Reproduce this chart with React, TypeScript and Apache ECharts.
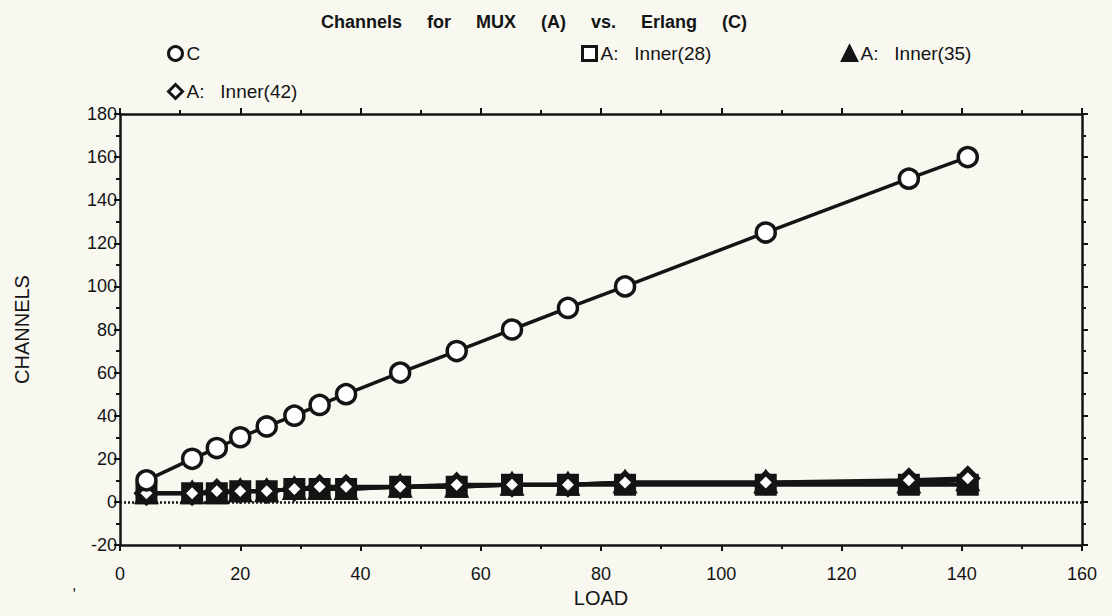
import React, { useEffect, useRef } from "react";
import * as echarts from "echarts";

const loads = [4.4, 12.0, 16.1, 20.0, 24.4, 29.0, 33.2, 37.6, 46.6, 56.0, 65.2, 74.5, 84.0, 107.4, 131.2, 141.0];
const channelsC = [10, 20, 25, 30, 35, 40, 45, 50, 60, 70, 80, 90, 100, 125, 150, 160];
const inner28 = [4, 4, 4, 5, 5, 6, 6, 6, 7, 7, 8, 8, 8, 8, 8, 8];
const inner35 = [4, 4, 4, 5, 5, 6, 6, 6, 7, 7, 8, 8, 9, 9, 9, 10];
const inner42 = [4, 4, 5, 5, 5, 6, 7, 7, 7, 8, 8, 8, 9, 9, 10, 11];
const seriesNames = ["C", "A:   Inner(28)", "A:   Inner(35)", "A:   Inner(42)"];
const titleText = "Channels     for     MUX     (A)     vs.     Erlang     (C)";

const INK = "#141414";
const FONT = "'Liberation Sans', Arial, sans-serif";

const pairs = (ys: number[]) => loads.map((x, i) => [x, ys[i]]);

export default function App() {
  const ref = useRef<HTMLDivElement>(null);
  useEffect(() => {
    if (!ref.current) return;
    const chart = echarts.init(ref.current, undefined, { renderer: "svg" });
    const axisCommon = {
      type: "value" as const,
      axisLine: { show: true, onZero: false, lineStyle: { color: INK, width: 2.5 } },
      axisTick: { show: true, inside: false, length: 6, lineStyle: { color: INK, width: 2 } },
      minorTick: { show: true, splitNumber: 2, length: 4, lineStyle: { color: INK, width: 2 } },
      splitLine: { show: false },
      minorSplitLine: { show: false },
    };
    const legendCommon = {
      orient: "horizontal" as const,
      itemWidth: 14,
      itemHeight: 14,
      itemGap: 4,
      textStyle: { fontFamily: FONT, fontSize: 19, color: INK, padding: [0, 0, 0, -1] },
      selectedMode: false,
    };
    const legendItemStyle = { color: "#fff", borderColor: INK, borderWidth: 3 };
    chart.setOption({
      animation: false,
      backgroundColor: "#f8f8f1",
      title: {
        text: titleText,
        left: 316,
        top: 8,
        textStyle: { fontFamily: FONT, fontSize: 18, fontWeight: "bold", color: INK },
      },
      legend: [
        { ...legendCommon, left: 162, top: 39, data: [{ name: seriesNames[0], icon: "circle", itemStyle: legendItemStyle }] },
        { ...legendCommon, left: 576, top: 39, data: [{ name: seriesNames[1], icon: "rect", itemStyle: legendItemStyle }] },
        { ...legendCommon, left: 836, top: 39, data: [{ name: seriesNames[2], icon: "triangle", itemStyle: { ...legendItemStyle, color: INK } }] },
        { ...legendCommon, left: 162, top: 77, data: [{ name: seriesNames[3], icon: "diamond", itemStyle: legendItemStyle }] },
      ],
      grid: { left: 120, right: 30, top: 114, bottom: 71, containLabel: false },
      xAxis: [
        {
          ...axisCommon,
          position: "bottom",
          min: 0,
          max: 160,
          interval: 20,
          axisLabel: { show: true, fontFamily: FONT, fontSize: 18, color: INK, margin: 20 },
          name: "LOAD",
          nameLocation: "middle",
          nameGap: 42,
          nameTextStyle: { fontFamily: FONT, fontSize: 20, color: INK },
        },
        {
          ...axisCommon,
          position: "top",
          min: 0,
          max: 160,
          interval: 20,
          axisLabel: { show: false },
        },
      ],
      yAxis: [
        {
          ...axisCommon,
          position: "left",
          min: -20,
          max: 180,
          interval: 20,
          axisLabel: { show: true, fontFamily: FONT, fontSize: 18, color: INK, margin: 3 },
          name: "CHANNELS",
          nameLocation: "middle",
          nameGap: 88,
          nameTextStyle: { fontFamily: FONT, fontSize: 20, color: INK },
        },
        {
          ...axisCommon,
          position: "right",
          min: -20,
          max: 180,
          interval: 20,
          axisLabel: { show: false },
        },
      ],
      graphic: [
        { type: "text", left: 72, top: 576, style: { text: ",", fontFamily: FONT, fontSize: 16, fill: INK } },
      ],
      series: [
        {
          name: seriesNames[1],
          type: "line",
          data: pairs(inner28),
          symbol: "rect",
          symbolSize: 17,
          lineStyle: { color: INK, width: 4 },
          itemStyle: { color: "#fff", borderColor: INK, borderWidth: 5 },
          z: 3,
          markLine: {
            silent: true,
            symbol: ["none", "none"],
            label: { show: false },
            lineStyle: { color: INK, type: [2, 2], width: 2.5 },
            data: [{ yAxis: 0 }],
          },
        },
        {
          name: seriesNames[2],
          type: "line",
          data: pairs(inner35),
          symbol: "triangle",
          symbolSize: 17,
          lineStyle: { color: INK, width: 4 },
          itemStyle: { color: "#fff", borderColor: INK, borderWidth: 5 },
          z: 4,
        },
        {
          name: seriesNames[3],
          type: "line",
          data: pairs(inner42),
          symbol: "diamond",
          symbolSize: 19,
          lineStyle: { color: INK, width: 4 },
          itemStyle: { color: "#fff", borderColor: INK, borderWidth: 5 },
          z: 5,
        },
        {
          name: seriesNames[0],
          type: "line",
          data: pairs(channelsC),
          symbol: "circle",
          symbolSize: 19,
          lineStyle: { color: INK, width: 3.5 },
          itemStyle: { color: "#fff", borderColor: INK, borderWidth: 3.5 },
          z: 6,
        },
      ],
    });
    return () => chart.dispose();
  }, []);
  return (
    <div
      ref={ref}
      style={{ position: "fixed", left: 0, top: 0, width: 1112, height: 616 }}
    />
  );
}
